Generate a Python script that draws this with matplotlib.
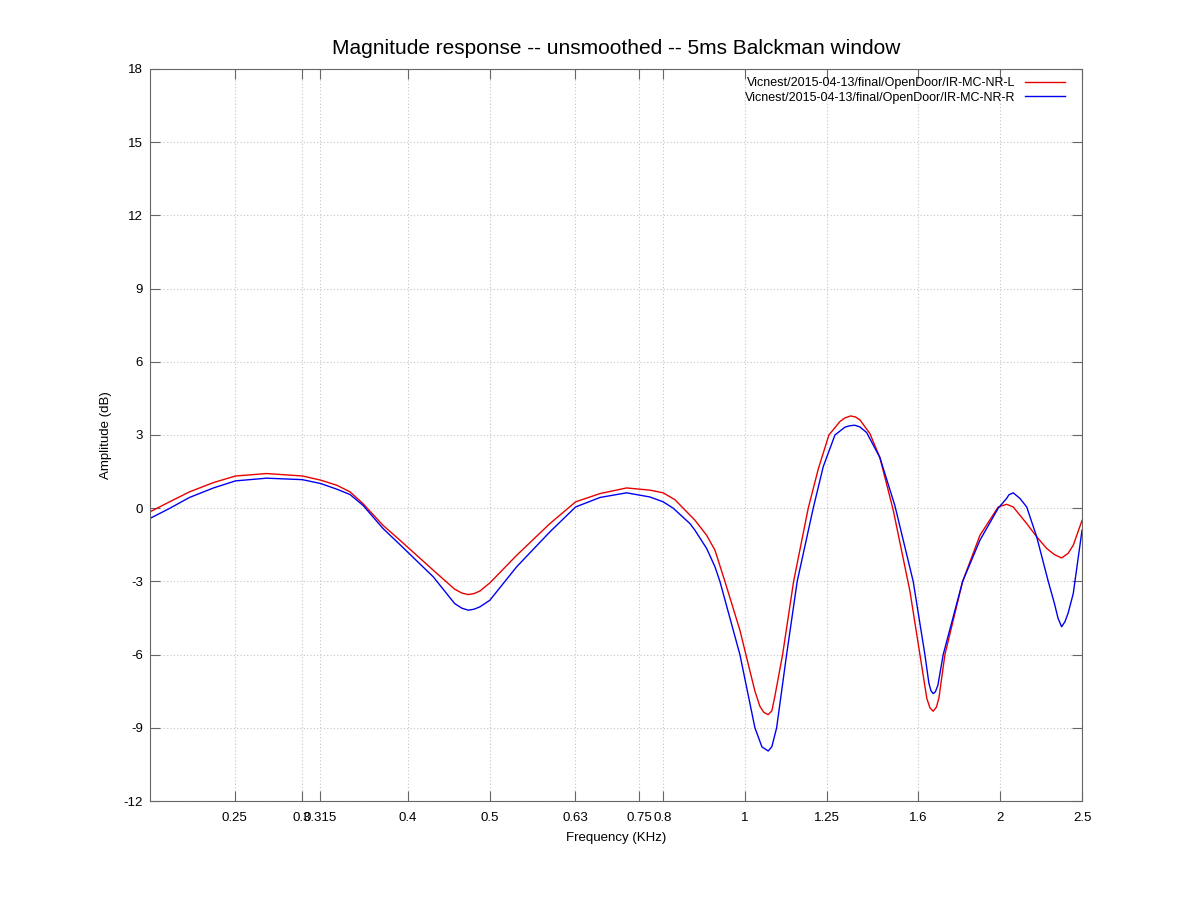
import matplotlib
matplotlib.use("Agg")
import matplotlib.pyplot as plt
from matplotlib.ticker import NullLocator

plt.rcParams['font.family'] = ['Liberation Sans', 'DejaVu Sans']
plt.rcParams['axes.unicode_minus'] = False

# Frequenz (KHz) und Pegel (dB)
freq_l = [0.1985, 0.2093, 0.2210, 0.2359, 0.2505, 0.2725, 0.3004, 0.3157, 0.3298,
          0.3419, 0.3541, 0.3739, 0.3915, 0.4286, 0.4544, 0.4635, 0.4716, 0.4789,
          0.4868, 0.5000, 0.5378, 0.5886, 0.6312, 0.6745, 0.7250, 0.7724, 0.8008,
          0.8266, 0.8456, 0.8729, 0.9012, 0.9218, 0.9471, 0.9865, 1.0027, 1.0276,
          1.0416, 1.0530, 1.0654, 1.0761, 1.0849, 1.1079, 1.1415, 1.1878, 1.2205,
          1.2565, 1.2946, 1.3123, 1.3328, 1.3503, 1.3669, 1.4044, 1.4430, 1.4965,
          1.5660, 1.6091, 1.6397, 1.6535, 1.6683, 1.6830, 1.6945, 1.7222, 1.8071,
          1.8943, 1.9907, 2.0367, 2.0736, 2.1510, 2.2100, 2.2710, 2.3191, 2.3650,
          2.4072, 2.4410, 2.5000]
amp_l = [-0.15, 0.26, 0.67, 1.05, 1.32, 1.42, 1.32, 1.15, 0.94,
         0.67, 0.19, -0.70, -1.31, -2.54, -3.32, -3.48, -3.54, -3.50,
         -3.39, -3.06, -1.93, -0.63, 0.26, 0.60, 0.83, 0.74, 0.63,
         0.35, 0.00, -0.49, -1.11, -1.72, -3.00, -5.00, -6.00, -7.50,
         -8.12, -8.37, -8.46, -8.30, -7.70, -6.00, -3.00, 0.00, 1.60,
         3.00, 3.55, 3.70, 3.78, 3.74, 3.62, 3.06, 2.08, -0.08,
         -3.40, -6.00, -7.80, -8.18, -8.32, -8.15, -7.77, -6.00, -3.00,
         -1.11, 0.05, 0.16, 0.05, -0.63, -1.17, -1.65, -1.90, -2.04,
         -1.85, -1.52, -0.50]

freq_r = [0.1985, 0.2093, 0.2210, 0.2359, 0.2505, 0.2725, 0.3004, 0.3157, 0.3298,
          0.3419, 0.3541, 0.3739, 0.3915, 0.4286, 0.4544, 0.4635, 0.4716, 0.4789,
          0.4868, 0.5000, 0.5378, 0.5886, 0.6312, 0.6745, 0.7250, 0.7724, 0.8008,
          0.8229, 0.8612, 0.8729, 0.9012, 0.9218, 0.9343, 0.9865, 1.0276, 1.0473,
          1.0654, 1.0761, 1.0900, 1.1200, 1.1527, 1.2040, 1.2372, 1.2773, 1.3123,
          1.3304, 1.3480, 1.3669, 1.3921, 1.4430, 1.5034, 1.5800, 1.6310, 1.6488,
          1.6580, 1.6683, 1.6784, 1.6898, 1.7142, 1.8071, 1.8943, 1.9907, 2.0367,
          2.0495, 2.0736, 2.1118, 2.1510, 2.2100, 2.2807, 2.3191, 2.3418, 2.3650,
          2.3868, 2.4072, 2.4410, 2.5000]
amp_r = [-0.42, -0.01, 0.44, 0.83, 1.12, 1.23, 1.17, 1.01, 0.78,
         0.56, 0.12, -0.83, -1.49, -2.81, -3.91, -4.10, -4.18, -4.14,
         -4.04, -3.77, -2.40, -0.97, 0.05, 0.44, 0.63, 0.46, 0.26,
         0.00, -0.63, -0.90, -1.65, -2.40, -3.00, -6.00, -9.00, -9.78,
         -9.95, -9.77, -9.00, -6.00, -3.00, 0.00, 1.70, 3.00, 3.32,
         3.38, 3.40, 3.33, 3.10, 2.08, 0.10, -3.00, -6.00, -7.17,
         -7.48, -7.60, -7.52, -7.25, -6.00, -3.00, -1.31, 0.00, 0.40,
         0.55, 0.63, 0.40, 0.05, -1.17, -3.00, -3.90, -4.50, -4.86,
         -4.65, -4.30, -3.50, -0.90]

xticks = [0.25, 0.3, 0.315, 0.4, 0.5, 0.63, 0.75, 0.8, 1, 1.25, 1.6, 2, 2.5]
xlabels = ['0.25', '0.3', '0.315', '0.4', '0.5', '0.63', '0.75', '0.8', '1',
           '1.25', '1.6', '2', '2.5']
yticks = list(range(-12, 19, 3))

name_l = 'Vicnest/2015-04-13/final/OpenDoor/IR-MC-NR-L'
name_r = 'Vicnest/2015-04-13/final/OpenDoor/IR-MC-NR-R'

fig = plt.figure(figsize=(11.98, 8.98), dpi=100)
ax = fig.add_axes([0.1252, 0.108, 0.778, 0.8152])

ax.plot(freq_l, amp_l, color='#e80000', lw=1.0, label=name_l,
        solid_joinstyle='round')
ax.plot(freq_r, amp_r, color='#0000f0', lw=1.0, label=name_r,
        solid_joinstyle='round')

ax.set_xscale('log')
ax.set_xlim(0.1985, 2.5)
ax.set_ylim(-12, 18)
ax.set_xticks(xticks)
ax.set_xticklabels(xlabels)
ax.xaxis.set_minor_locator(NullLocator())
ax.set_yticks(yticks)

ax.grid(True, color='#c4c4c4', linestyle=(0, (1, 2)), linewidth=0.8)
ax.tick_params(direction='in', length=7, width=0.8, color='#666666',
               top=True, right=True, labelsize=9.5)
ax.tick_params(axis='x', pad=8)
ax.tick_params(axis='y', pad=5)
for s in ax.spines.values():
    s.set_color('#666666')
    s.set_linewidth(0.8)

ax.set_xlabel('Frequency (KHz)', fontsize=9.5, labelpad=6)
ax.set_ylabel('Amplitude (dB)', fontsize=9.5, labelpad=8.5)
ax.set_title('Magnitude response -- unsmoothed -- 5ms Balckman window',
             fontsize=15, pad=11)

ax.legend(loc='upper right', bbox_to_anchor=(0.9818, 0.9890), frameon=False,
          markerfirst=False, fontsize=9, handlelength=3.2, handletextpad=0.8,
          labelspacing=0.22, borderaxespad=0, borderpad=0)

fig.savefig('out.png', dpi=100)
